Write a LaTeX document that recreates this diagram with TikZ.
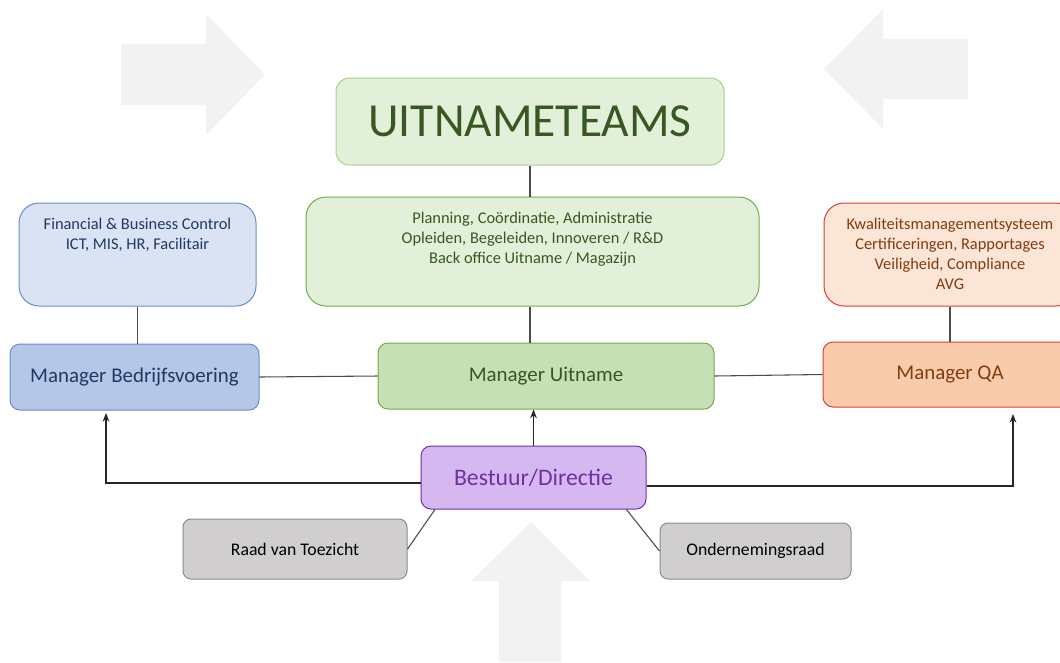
\documentclass[tikz,border=0pt]{standalone}
\usepackage{fontspec}
\setmainfont{Carlito}
\usetikzlibrary{positioning,arrows.meta}
\definecolor{pijlgrijs}{HTML}{F2F2F2}
\definecolor{blauwvak}{HTML}{DAE3F3}
\definecolor{blauwmgr}{HTML}{B4C7E7}
\definecolor{blauwrand}{HTML}{6A8CC7}
\definecolor{blauwtekst}{HTML}{203864}
\definecolor{groenvak}{HTML}{E2F0D9}
\definecolor{groenmgr}{HTML}{C5E0B4}
\definecolor{groenrand}{HTML}{70AD47}
\definecolor{groenlicht}{HTML}{A9D18E}
\definecolor{groentekst}{HTML}{385723}
\definecolor{oranjevak}{HTML}{FBE5D6}
\definecolor{oranjemgr}{HTML}{F8CBAD}
\definecolor{roodrand}{HTML}{E03C31}
\definecolor{bruintekst}{HTML}{843C0C}
\definecolor{paarsvak}{HTML}{D5B8F0}
\definecolor{paarsrand}{HTML}{7030A0}
\definecolor{grijsvak}{HTML}{D0CECE}
\definecolor{grijsrand}{HTML}{8C8C8C}

\begin{document}
\begin{tikzpicture}[x=0.75pt,y=0.75pt,yscale=-1,xscale=1,
    vak/.style={draw,rectangle,line width=0.75pt,rounded corners=7.5pt,inner sep=0pt},
    tekstvak/.style={vak,rounded corners=15pt},
    klein/.style={align=center,inner sep=0pt,font=\fontsize{12.3}{15}\selectfont},
    mgr/.style={vak,font=\fontsize{15.7}{18}\selectfont},
    raadvak/.style={vak,rounded corners=6pt,fill=grijsvak,draw=grijsrand,font=\fontsize{13.3}{15}\selectfont},
    lijn/.style={draw=black!70,line width=0.8pt},
    pijl/.style={draw=black!85,line width=0.8pt,-{Stealth[length=6.5pt,width=5pt]}}]
\clip (0,0) rectangle (1060,662);

% grijze achtergrondpijlen
\fill[pijlgrijs] (121,44) -- (206,44) -- (206,14) -- (265,74.5) -- (206,135) -- (206,105) -- (121,105) -- cycle;
\fill[pijlgrijs] (968,39) -- (883,39) -- (883,9) -- (824,69) -- (883,129) -- (883,99) -- (968,99) -- cycle;
\fill[pijlgrijs] (499,662) -- (499,581) -- (471,581) -- (531,522) -- (590,581) -- (561,581) -- (561,662) -- cycle;

% bovenste rij
\node[vak,rounded corners=10pt,fill=groenvak,draw=groenlicht,text=groentekst,minimum width=291pt,minimum height=65.25pt,font=\fontsize{35.6}{40}\selectfont] (teams) at (530,121.5) {UITNAMETEAMS};

\node[tekstvak,fill=blauwvak,draw=blauwrand,minimum width=177.75pt,minimum height=77.25pt] (fin) at (137.5,254.5) {};
\node[klein,text=blauwtekst,below=11.5pt of fin.north] (fintekst) {Financial \& Business Control\\ICT, MIS, HR, Facilitair};

\node[tekstvak,fill=groenvak,draw=groenrand,minimum width=339.75pt,minimum height=81.75pt] (taken) at (532.5,251.5) {};
\node[klein,text=groentekst,below=11.5pt of taken.north] (takentekst) {Planning, Coördinatie, Administratie\\Opleiden, Begeleiden, Innoveren / R\&D\\Back office Uitname / Magazijn};

\node[tekstvak,fill=oranjevak,draw=roodrand,minimum width=189pt,minimum height=77.25pt] (kwal) at (950,254.5) {};
\node[klein,text=bruintekst,below=11.5pt of kwal.north] (kwaltekst) {Kwaliteitsmanagementsysteem\\Certificeringen, Rapportages\\Veiligheid, Compliance\\AVG};

% managers
\node[mgr,fill=blauwmgr,draw=blauwrand,text=blauwtekst,minimum width=186.75pt,minimum height=49.5pt] (mbv) at (134.5,377) {Manager Bedrijfsvoering};
\node[mgr,fill=groenmgr,draw=groenrand,text=groentekst,minimum width=252pt,minimum height=49.5pt] (mu) at (546,376) {Manager Uitname};
\node[mgr,fill=oranjemgr,draw=roodrand,text=bruintekst,minimum width=190.5pt,minimum height=48.75pt] (mqa) at (950,374.5) {Manager QA};

% bestuur en raden
\node[vak,fill=paarsvak,draw=paarsrand,text=paarsrand,minimum width=168.75pt,minimum height=47.25pt,font=\fontsize{17.8}{20}\selectfont] (bestuur) at (533.5,477.5) {Bestuur/Directie};
\node[raadvak,minimum width=168pt,minimum height=45pt] (raad) at (295,549) {Raad van Toezicht};
\node[raadvak,minimum width=143.25pt,minimum height=42pt] (or) at (755.5,551) {Ondernemingsraad};

\coordinate (lpijl) at (106,413);
\coordinate (rpijl) at (1013,414);

% verbindingen
\draw[lijn] (teams.south) -- (taken.north -| teams.south);
\draw[lijn] (taken.south -| teams.south) -- (mu.north -| teams.south);
\draw[lijn] (fin.south) -- (fin.south |- mbv.north);
\draw[lijn] (kwal.south) -- (mqa.north);
\draw[lijn] (mbv.east) -- (mu.west);
\draw[lijn] (mu.east) -- (mqa.west);
\draw[pijl] (bestuur.north) -- (bestuur.north |- mu.south);
\draw[pijl] (bestuur.west |- 0,483) -| (lpijl);
\draw[pijl] (bestuur.east |- 0,486) -| (rpijl);
\draw[lijn] (bestuur.198) -- (raad.east);
\draw[lijn] (bestuur.341) -- (or.west);
\end{tikzpicture}
\end{document}
